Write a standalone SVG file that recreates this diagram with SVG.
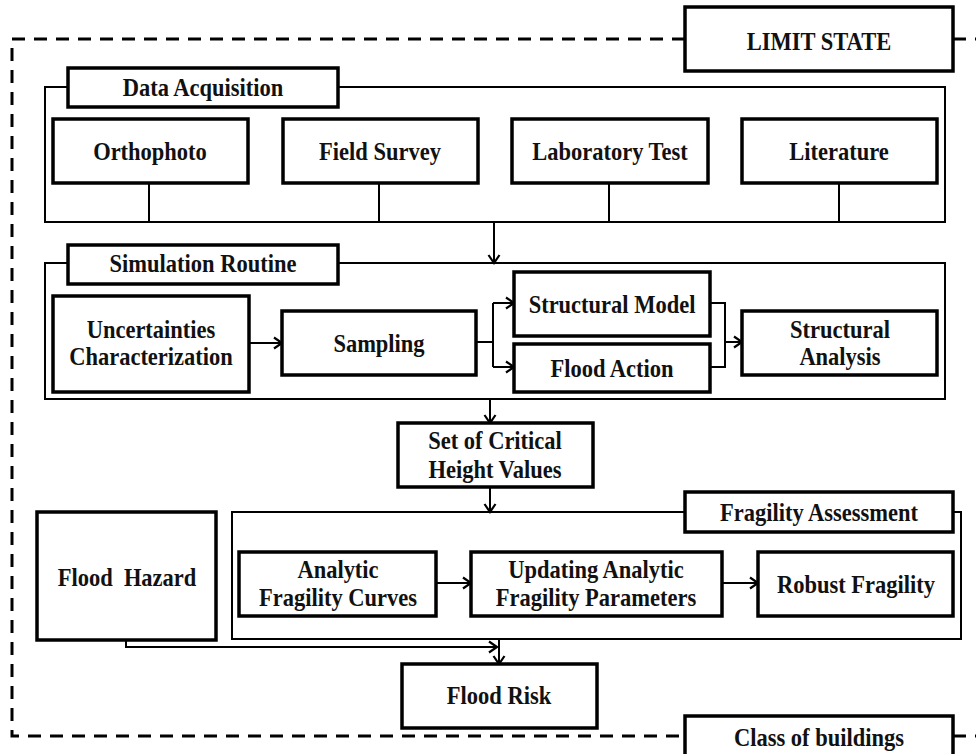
<svg xmlns="http://www.w3.org/2000/svg" width="976" height="754" viewBox="0 0 976 754">
  <style>
    .box { fill: #fff; stroke: #000; stroke-width: 3.5; }
    .grp { fill: none; stroke: #000; stroke-width: 2; }
    .ln { fill: none; stroke: #000; stroke-width: 2; }
    .arr { fill: none; stroke: #000; stroke-width: 2; marker-end: url(#head); }
    .dash { fill: none; stroke: #000; stroke-width: 3; stroke-dasharray: 13 9; }
    text { font-family: "Liberation Serif", "Times New Roman", serif; font-weight: bold; font-size: 25px; fill: #111; text-anchor: middle;
           transform-box: fill-box; transform-origin: center; transform: scaleX(0.9); }
  </style>
  <defs>
    <marker id="head" markerUnits="userSpaceOnUse" markerWidth="12" markerHeight="14" refX="10" refY="7" orient="auto">
      <path d="M2,1.5 L10,7 L2,12.5" fill="none" stroke="#000" stroke-width="2.2"/>
    </marker>
  </defs>

  <rect width="976" height="754" fill="#fff"/>

  <!-- limit-state boundary -->
  <g id="boundary">
    <path class="dash" d="M685,39 H12 V736 H685"/>
    <path class="dash" d="M953,39 H976"/>
    <path class="dash" d="M953,736 H976"/>
  </g>

  <!-- group frames -->
  <g id="frames">
    <rect class="grp" x="45" y="87" width="900" height="135"/>
    <rect class="grp" x="45" y="263" width="900" height="136"/>
    <rect class="grp" x="232" y="512" width="729" height="127"/>
  </g>

  <!-- connectors -->
  <g id="connectors">
    <path class="ln" d="M149,183 V222 M379,183 V222 M609,183 V222 M839,183 V222"/>
    <path class="arr" d="M494,222 V263"/>
    <path class="arr" d="M249,343 H282"/>
    <path class="ln" d="M476,342 H493 M493,303 V367"/>
    <path class="arr" d="M493,303 H514"/>
    <path class="arr" d="M493,367 H514"/>
    <path class="ln" d="M710,303 H725 V367 H710"/>
    <path class="arr" d="M725,342 H742"/>
    <path class="arr" d="M490,399 V423"/>
    <path class="arr" d="M490,487 V512"/>
    <path class="arr" d="M436,583 H471"/>
    <path class="arr" d="M722,583 H758"/>
    <path class="arr" d="M126,640 V647 H497"/>
    <path class="arr" d="M499,639 V664"/>
  </g>

  <g id="limit-state">
    <rect class="box" x="685" y="7" width="268" height="64"/>
    <text x="819" y="50">LIMIT STATE</text>
  </g>

  <g id="data-acquisition">
    <rect class="box" x="68" y="68" width="270" height="39"/>
    <text x="203" y="96">Data Acquisition</text>
  </g>

  <g id="orthophoto">
    <rect class="box" x="53" y="119" width="195" height="64"/>
    <text x="150" y="160">Orthophoto</text>
  </g>

  <g id="field-survey">
    <rect class="box" x="283" y="119" width="195" height="64"/>
    <text x="380" y="160">Field Survey</text>
  </g>

  <g id="laboratory-test">
    <rect class="box" x="512" y="119" width="196" height="64"/>
    <text x="610" y="160">Laboratory Test</text>
  </g>

  <g id="literature">
    <rect class="box" x="742" y="119" width="195" height="64"/>
    <text x="839" y="160">Literature</text>
  </g>

  <g id="simulation-routine">
    <rect class="box" x="68" y="245" width="270" height="39"/>
    <text x="203" y="272">Simulation Routine</text>
  </g>

  <g id="uncertainties">
    <rect class="box" x="53" y="296" width="196" height="96"/>
    <text x="151" y="338">Uncertainties</text>
    <text x="151" y="365">Characterization</text>
  </g>

  <g id="sampling">
    <rect class="box" x="282" y="311" width="194" height="64"/>
    <text x="379" y="352">Sampling</text>
  </g>

  <g id="structural-model">
    <rect class="box" x="514" y="272" width="196" height="64"/>
    <text x="612" y="313">Structural Model</text>
  </g>

  <g id="flood-action">
    <rect class="box" x="514" y="344" width="196" height="48"/>
    <text x="612" y="377">Flood Action</text>
  </g>

  <g id="structural-analysis">
    <rect class="box" x="742" y="311" width="195" height="64"/>
    <text x="840" y="338">Structural</text>
    <text x="840" y="365">Analysis</text>
  </g>

  <g id="critical-height">
    <rect class="box" x="398" y="423" width="195" height="64"/>
    <text x="495" y="449">Set of Critical</text>
    <text x="495" y="478">Height Values</text>
  </g>

  <g id="fragility-assessment">
    <rect class="box" x="685" y="492" width="268" height="40"/>
    <text x="819" y="521">Fragility Assessment</text>
  </g>

  <g id="flood-hazard">
    <rect class="box" x="37" y="512" width="179" height="128"/>
    <text x="127" y="586" xml:space="preserve">Flood  Hazard</text>
  </g>

  <g id="analytic-fragility">
    <rect class="box" x="239" y="552" width="197" height="64"/>
    <text x="338" y="578">Analytic</text>
    <text x="338" y="606">Fragility Curves</text>
  </g>

  <g id="updating-parameters">
    <rect class="box" x="471" y="552" width="251" height="64"/>
    <text x="596" y="578">Updating Analytic</text>
    <text x="596" y="606">Fragility Parameters</text>
  </g>

  <g id="robust-fragility">
    <rect class="box" x="758" y="552" width="195" height="64"/>
    <text x="856" y="593">Robust Fragility</text>
  </g>

  <g id="flood-risk">
    <rect class="box" x="402" y="664" width="195" height="64"/>
    <text x="499" y="704">Flood Risk</text>
  </g>

  <g id="class-of-buildings">
    <rect class="box" x="685" y="716" width="268" height="50"/>
    <text x="819" y="746">Class of buildings</text>
  </g>
</svg>
